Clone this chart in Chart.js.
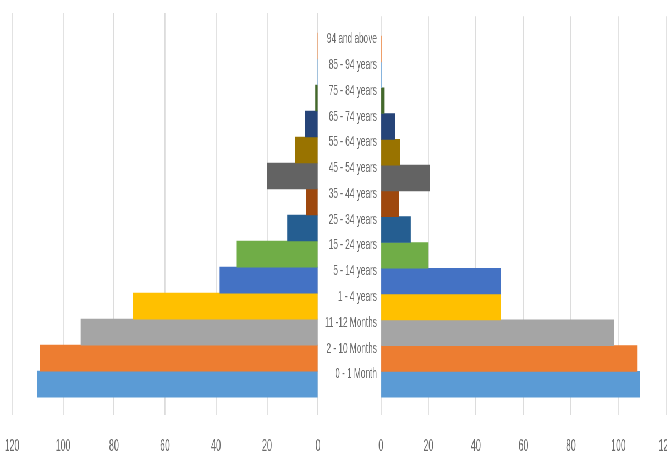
<!DOCTYPE html>
<html lang="en">
<head>
    <meta charset="UTF-8">
    <title>Age pyramid</title>
    <script src="https://cdn.jsdelivr.net/npm/chart.js"></script>
    <style>
        html, body {
            margin: 0;
            padding: 0;
            background: #ffffff;
            overflow: hidden;
        }
        .page {
            position: relative;
            width: 667px;
            height: 456px;
            overflow: hidden;
        }
        /* the reference is squeezed sideways, so the charts are drawn wide and compressed */
        .wrap {
            position: absolute;
            left: 0;
            top: 0;
            height: 456px;
            transform-origin: 0 0;
        }
        canvas {
            position: absolute;
            top: 0;
        }
    </style>
</head>
<body>
    <div class="page">
        <div class="wrap" id="wrap">
            <canvas id="leftChart"></canvas>
            <canvas id="rightChart"></canvas>
        </div>
    </div>

    <script>
        // age groups, bottom to top
        const ageGroups = [
            '0 - 1 Month', '2 - 10 Months', '11 -12 Months', '1 - 4 years',
            '5 - 14 years', '15 - 24 years', '25 - 34 years', '35 - 44 years',
            '45 - 54 years', '55 - 64 years', '65 - 74 years', '75 - 84 years',
            '85 - 94 years', '94 and above'
        ];
        const leftValues = [110, 109, 93, 72.5, 38.5, 32, 12, 4.5, 20, 9, 5, 1, 0.4, 0.4];
        const rightValues = [109, 108, 98, 50.5, 50.5, 20, 12.5, 7.5, 20.5, 8, 6, 1.5, 0.4, 0.4];
        const xTicks = [0, 20, 40, 60, 80, 100, 120];

        // Excel-like colour cycle, one per age group
        const barColors = [
            '#5B9BD5', '#ED7D31', '#A5A5A5', '#FFC000', '#4472C4', '#70AD47', '#255E91',
            '#9E480E', '#636363', '#997300', '#264478', '#43682B', '#7CAFDD', '#F1975A'
        ];

        const fontFamily = "'Liberation Sans', Arial, sans-serif";
        const textColor = '#6b6b6b';
        const gridColor = '#dcdcdc';

        // horizontal squeeze and the page positions it maps to
        const S = 0.55;
        const H = 456;
        const leftCanvasW = Math.round(330 / S);
        const rightCanvasX = 318 / S;
        const rightCanvasW = 700;

        const wrap = document.getElementById('wrap');
        wrap.style.width = Math.round(667 / S + 100) + 'px';
        wrap.style.transform = 'scaleX(' + S + ')';

        function setupCanvas(id, x, w) {
            const c = document.getElementById(id);
            c.width = w;
            c.height = H;
            c.style.left = x + 'px';
            return c.getContext('2d');
        }

        function toPoints(values) {
            return values.map((v, i) => ({ x: v, y: i }));
        }

        function xScale(reverse) {
            return {
                type: 'linear',
                min: 0,
                max: 120,
                reverse: reverse,
                afterBuildTicks: (scale) => {
                    scale.ticks = xTicks.map(v => ({ value: v }));
                },
                afterFit: (scale) => {
                    scale.height = 41;
                },
                grid: {
                    color: gridColor,
                    lineWidth: 1 / S,
                    drawTicks: false
                },
                border: { display: false },
                ticks: {
                    padding: 22,
                    color: textColor,
                    font: { family: fontFamily, size: 16 },
                    maxRotation: 0
                }
            };
        }

        function yScale(showLabels) {
            return {
                type: 'linear',
                min: -1.19,
                max: 14.27,
                offset: false,
                display: showLabels,
                afterBuildTicks: (scale) => {
                    scale.ticks = ageGroups.map((_, i) => ({ value: i }));
                },
                afterFit: (scale) => {
                    if (showLabels) scale.width = 63 / S;
                },
                grid: { display: false, drawTicks: false },
                border: { display: false },
                ticks: {
                    padding: 4 / S,
                    labelOffset: -10,
                    color: textColor,
                    font: { family: fontFamily, size: 15 },
                    callback: (value) => ageGroups[value]
                }
            };
        }

        function makeChart(ctx, values, reverse, showLabels, padding) {
            return new Chart(ctx, {
                type: 'bar',
                data: {
                    datasets: [{
                        data: toPoints(values),
                        backgroundColor: barColors,
                        borderWidth: 0,
                        barPercentage: 1,
                        categoryPercentage: 1
                    }]
                },
                options: {
                    indexAxis: 'y',
                    responsive: false,
                    animation: false,
                    layout: { padding: padding },
                    scales: {
                        x: xScale(reverse),
                        y: yScale(showLabels)
                    },
                    plugins: {
                        legend: { display: false },
                        tooltip: { enabled: false }
                    }
                }
            });
        }

        // left panel: 120 at page x 12, 0 at page x 318
        makeChart(setupCanvas('leftChart', 0, leftCanvasW), leftValues, true, false,
            { top: 13, left: 12 / S, right: leftCanvasW - 318 / S, bottom: 0 });

        // right panel: 0 at page x 381, 120 at page x 666
        makeChart(setupCanvas('rightChart', rightCanvasX, rightCanvasW), rightValues, false, true,
            { top: 13, left: 0, right: rightCanvasW - (666 - 318) / S, bottom: 0 });
    </script>
</body>
</html>
